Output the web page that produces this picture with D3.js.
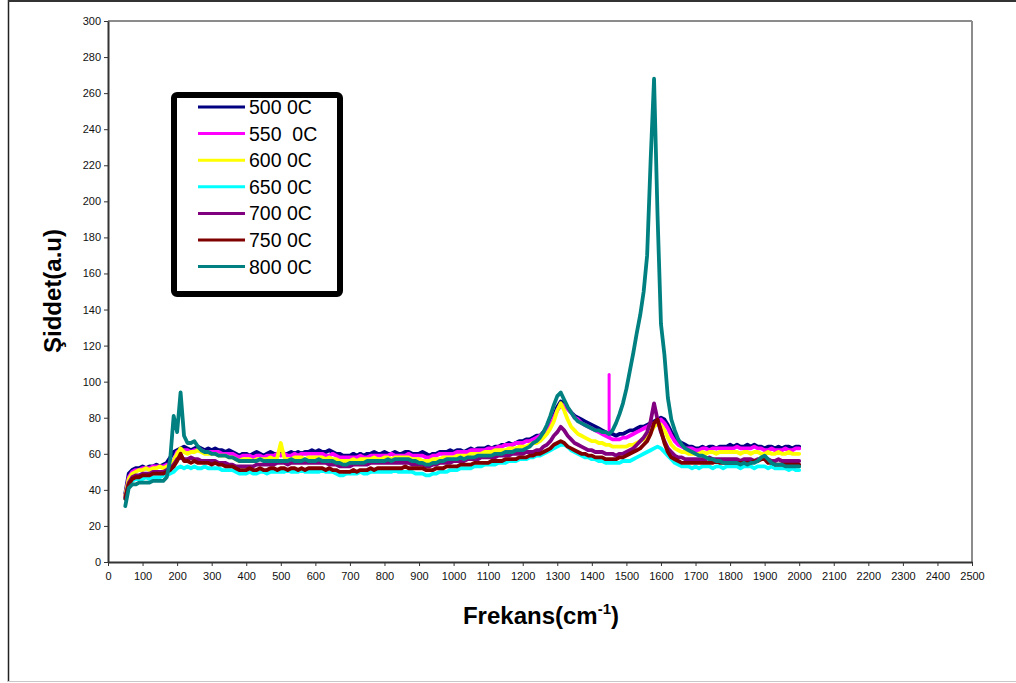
<!DOCTYPE html>
<html>
<head>
<meta charset="utf-8">
<script src="https://cdn.jsdelivr.net/npm/d3@7/dist/d3.min.js"></script>
<style>
  html, body { margin: 0; padding: 0; background: #fff; }
  svg { display: block; font-family: Arial, "Liberation Sans", sans-serif; }
</style>
</head>
<body>
<svg id="chart" width="1016" height="683"></svg>
<script>
// Raman spectra sampled every 10 cm-1 from 50 to 2000 cm-1
const freq = d3.range(50, 2001, 10);

const seriesNames = ["500 0C", "550  0C", "600 0C", "650 0C", "700 0C", "750 0C", "800 0C"];
const seriesColors = ["#000080", "#FF00FF", "#FFFF00", "#00FFFF", "#800080", "#800000", "#008080"];

const s500 = [38,49,51,52,52,
  53,52,53,53,54,53,54,55,58,61,
  62,63,64,63,62,63,64,63,62,63,
  62,63,62,62,61,62,61,60,59,60,
  60,59,60,61,60,59,60,61,60,60,
  61,60,60,61,60,61,60,61,61,62,
  61,62,61,61,62,61,60,60,59,59,
  59,60,59,60,59,60,60,61,60,60,
  61,60,60,61,60,60,61,61,60,60,
  60,61,60,59,60,60,61,61,61,62,
  61,62,62,61,62,63,62,63,63,63,
  64,63,64,64,65,65,66,65,66,67,
  67,68,68,69,70,70,72,74,77,81,
  86,89,88,85,83,81,80,79,78,77,
  76,75,74,73,72,71,71,70,71,71,
  72,73,73,74,75,75,76,77,78,79,
  80,79,76,72,69,67,66,65,64,64,
  63,63,64,63,64,64,63,64,64,64,
  65,64,65,64,64,65,64,65,64,64,
  63,64,64,63,64,63,64,64,63,64,
  64];

const s550 = [37,47,50,51,51,
  52,52,52,53,53,53,53,54,54,56,
  61,61,62,62,61,62,62,62,61,61,
  61,61,61,60,60,60,60,59,58,59,
  59,59,58,59,59,58,59,59,59,60,
  59,60,59,59,60,59,60,60,60,60,
  60,60,60,59,59,60,59,58,58,58,
  58,58,58,59,58,58,59,59,59,59,
  59,59,60,59,59,59,59,60,59,59,
  59,59,58,58,59,59,60,60,60,60,
  60,61,61,61,61,62,62,62,62,62,
  63,63,63,64,64,65,65,65,66,66,
  66,67,67,68,69,70,71,73,76,80,
  84,87,87,85,83,80,79,77,76,75,
  74,73,72,71,70,69,68,68,68,69,
  69,70,71,72,73,74,75,76,77,78,
  79,77,74,70,67,65,64,63,63,63,
  62,62,63,63,62,63,63,63,63,63,
  63,63,64,63,63,63,63,64,63,63,
  62,62,63,62,62,62,63,62,62,63,
  63];
// narrow single-channel spike in the 550 0C spectrum
const spike550 = { freq: 1450, value: 104 };

const s600 = [37,46,49,50,51,
  51,52,51,52,52,53,52,53,54,56,
  60,63,61,60,61,61,62,61,60,60,
  60,60,59,59,59,58,58,57,56,57,
  57,57,56,57,57,57,57,58,57,58,
  66,58,57,57,58,58,58,57,58,58,
  58,58,58,57,58,57,57,56,56,56,
  56,57,56,57,57,57,57,58,57,57,
  58,58,57,58,58,58,58,58,57,57,
  57,56,56,56,57,57,57,58,58,58,
  58,59,59,59,59,60,60,60,60,61,
  61,61,62,62,62,62,63,63,63,64,
  64,64,65,66,66,67,69,71,74,78,
  84,88,84,79,75,73,71,70,69,68,
  67,67,66,66,65,65,64,64,64,64,
  64,65,65,66,67,68,70,72,75,77,
  76,73,69,65,63,62,61,61,60,60,
  60,60,61,60,61,61,60,61,61,61,
  61,61,61,60,61,61,60,61,61,60,
  60,61,60,60,61,60,60,61,60,60,
  60];

const s650 = [35,43,45,46,46,
  46,47,46,47,47,47,48,48,49,50,
  52,53,52,53,52,53,52,52,53,52,
  52,52,52,51,51,51,51,50,49,49,
  49,50,49,49,50,50,49,50,50,50,
  50,50,51,50,50,50,51,50,50,50,
  50,50,51,50,50,50,49,48,48,49,
  49,49,49,50,49,49,50,50,50,50,
  50,50,50,51,50,50,50,50,50,49,
  49,49,48,48,49,49,50,50,50,51,
  51,51,52,52,52,52,53,53,53,54,
  54,54,54,55,55,55,56,56,56,57,
  57,57,58,58,59,59,60,61,62,63,
  64,65,65,64,62,61,60,59,58,58,
  57,57,56,56,55,55,55,55,55,56,
  56,56,57,58,59,60,61,62,63,64,
  63,61,59,57,55,54,53,53,53,52,
  53,52,53,53,53,52,53,53,52,53,
  53,53,53,52,53,53,53,52,53,53,
  53,52,53,52,52,52,52,51,52,51,
  51];

const s700 = [36,44,47,48,48,
  49,49,49,50,50,50,50,51,52,54,
  57,58,57,57,58,57,57,56,56,56,
  56,56,55,55,55,54,54,53,53,53,
  53,53,53,54,54,54,54,54,54,55,
  55,55,54,55,55,55,55,55,55,55,
  55,55,55,55,54,54,54,53,53,53,
  53,54,54,54,54,54,55,55,55,55,
  55,55,55,55,55,55,55,55,54,54,
  54,54,53,53,54,54,55,55,55,55,
  56,56,56,56,57,57,57,57,58,58,
  58,58,58,59,59,59,59,60,60,60,
  60,61,61,61,62,62,64,65,67,70,
  72,75,73,70,68,66,65,64,63,62,
  62,61,61,61,60,60,60,59,60,60,
  61,62,63,65,67,69,72,78,88,79,
  72,67,63,61,59,58,58,57,57,57,
  57,57,57,57,58,57,57,57,57,57,
  57,57,57,56,57,57,57,56,57,57,
  57,57,56,56,57,56,56,56,56,56,
  56];

const s750 = [35,43,46,47,47,
  48,48,48,49,49,49,49,50,51,53,
  56,60,56,56,55,56,55,55,55,55,
  54,55,54,54,53,53,53,52,51,51,
  51,52,51,51,52,51,51,52,52,51,
  52,52,51,52,52,51,52,51,52,52,
  52,52,52,51,52,51,51,50,50,50,
  50,51,50,51,51,51,52,51,52,52,
  52,52,52,52,52,52,53,52,52,52,
  52,52,51,51,51,52,52,52,53,53,
  53,53,54,54,54,54,55,55,55,55,
  55,56,56,56,56,57,57,57,57,58,
  58,58,59,59,60,60,61,62,63,65,
  66,67,66,64,63,62,61,60,60,59,
  59,58,58,58,57,57,57,57,58,58,
  59,60,61,62,63,65,67,71,77,79,
  73,66,61,58,57,56,55,55,55,55,
  55,55,55,55,55,55,56,55,55,55,
  55,55,55,55,55,55,55,56,56,57,
  57,55,55,54,54,54,54,54,54,54,
  54];

const s800 = [31,41,43,43,44,
  44,44,44,45,45,45,45,47,57,81,
  72,94,70,66,66,67,64,62,61,61,
  60,60,59,59,59,58,58,57,56,56,
  56,56,56,56,57,56,56,56,56,56,
  56,56,56,57,56,56,56,57,56,56,
  56,57,56,56,56,56,55,55,54,54,
  55,55,55,55,55,56,56,56,56,56,
  56,57,56,57,57,57,57,57,56,56,
  55,55,54,54,55,55,56,56,57,57,
  57,57,58,57,58,58,58,59,59,59,
  59,59,60,60,60,61,61,61,62,62,
  62,63,64,66,67,69,72,76,81,87,
  92,94,90,86,83,80,78,77,76,75,
  74,73,73,72,72,71,73,77,82,88,
  96,106,116,127,137,150,170,222,268,193,
  132,115,91,79,73,68,65,63,62,61,
  60,59,59,58,57,57,56,56,55,55,
  55,55,55,54,55,54,55,55,56,58,
  59,57,55,54,54,54,53,53,53,53,
  53];

const seriesValues = [s500, s550, s600, s650, s700, s750, s800];

const xTicks = d3.range(0, 2501, 100);
const yTicks = d3.range(0, 301, 20);

const svg = d3.select("#chart");
const plot = { left: 108, top: 21, right: 972, bottom: 562 };

const x = d3.scaleLinear().domain([0, 2500]).range([plot.left, plot.right]);
const y = d3.scaleLinear().domain([0, 300]).range([plot.bottom, plot.top]);

// outer chart-area border
svg.append("line").attr("x1", 8.5).attr("y1", 0).attr("x2", 8.5).attr("y2", 682)
  .attr("stroke", "#222").attr("stroke-width", 1.5);
svg.append("line").attr("x1", 8).attr("y1", 1).attr("x2", 1016).attr("y2", 1)
  .attr("stroke", "#333").attr("stroke-width", 2);
svg.append("line").attr("x1", 8).attr("y1", 681.5).attr("x2", 1016).attr("y2", 681.5)
  .attr("stroke", "#c8c8c8").attr("stroke-width", 1);

// plot-area frame (top and right in grey)
svg.append("line").attr("x1", plot.left).attr("y1", plot.top).attr("x2", plot.right).attr("y2", plot.top)
  .attr("stroke", "#8c8c8c").attr("stroke-width", 2);
svg.append("line").attr("x1", plot.right).attr("y1", plot.top).attr("x2", plot.right).attr("y2", plot.bottom)
  .attr("stroke", "#8c8c8c").attr("stroke-width", 2);

// spectra
const line = d3.line()
  .x((d, i) => x(freq[i]))
  .y(d => y(d));

const lines = svg.append("g").attr("fill", "none")
  .attr("stroke-linejoin", "round").attr("stroke-linecap", "round");

seriesValues.forEach((vals, k) => {
  lines.append("path")
    .attr("d", line(vals))
    .attr("stroke", seriesColors[k])
    .attr("stroke-width", 3.8);
  if (k === 1) {
    const i = freq.indexOf(spike550.freq);
    lines.append("line")
      .attr("x1", x(spike550.freq)).attr("x2", x(spike550.freq))
      .attr("y1", y(vals[i])).attr("y2", y(spike550.value))
      .attr("stroke", seriesColors[k]).attr("stroke-width", 3);
  }
});

// axes
const yAxis = svg.append("g")
  .attr("transform", `translate(${plot.left},0)`)
  .call(d3.axisLeft(y).tickValues(yTicks).tickFormat(d3.format("d"))
    .tickSize(4).tickPadding(3).tickSizeOuter(0));
const xAxis = svg.append("g")
  .attr("transform", `translate(0,${plot.bottom})`)
  .call(d3.axisBottom(x).tickValues(xTicks).tickFormat(d3.format("d"))
    .tickSize(4).tickPadding(6).tickSizeOuter(0));

[yAxis, xAxis].forEach(g => {
  g.select(".domain").attr("stroke", "#333").attr("stroke-width", 2);
  g.selectAll(".tick line").attr("stroke", "#333").attr("stroke-width", 1);
  g.selectAll(".tick text").attr("fill", "#111").attr("font-size", 11)
    .attr("font-family", "Arial, 'Liberation Sans', sans-serif");
});

// axis titles
svg.append("text")
  .attr("transform", "translate(61,291) rotate(-90)")
  .attr("text-anchor", "middle")
  .attr("font-size", 24).attr("font-weight", "bold").attr("fill", "#000")
  .text("Şiddet(a.u)");

const xt = svg.append("text")
  .attr("x", 541).attr("y", 624)
  .attr("text-anchor", "middle")
  .attr("font-size", 24).attr("font-weight", "bold").attr("fill", "#000");
xt.append("tspan").text("Frekans(cm");
xt.append("tspan").attr("font-size", 15).attr("dy", -10).text("-1");
xt.append("tspan").attr("dy", 10).text(")");

// legend
const legend = svg.append("g");
legend.append("rect")
  .attr("x", 174).attr("y", 95).attr("width", 166).attr("height", 199)
  .attr("rx", 3).attr("fill", "#fff").attr("stroke", "#000").attr("stroke-width", 6);
seriesNames.forEach((name, k) => {
  const ry = 107 + k * 26.6;
  legend.append("line")
    .attr("x1", 198).attr("x2", 245).attr("y1", ry).attr("y2", ry)
    .attr("stroke", seriesColors[k]).attr("stroke-width", 3);
  legend.append("text")
    .attr("x", 249).attr("y", ry).attr("dy", "0.36em")
    .attr("font-size", 19.5).attr("fill", "#000")
    .style("white-space", "pre")
    .text(name);
});
</script>
</body>
</html>
